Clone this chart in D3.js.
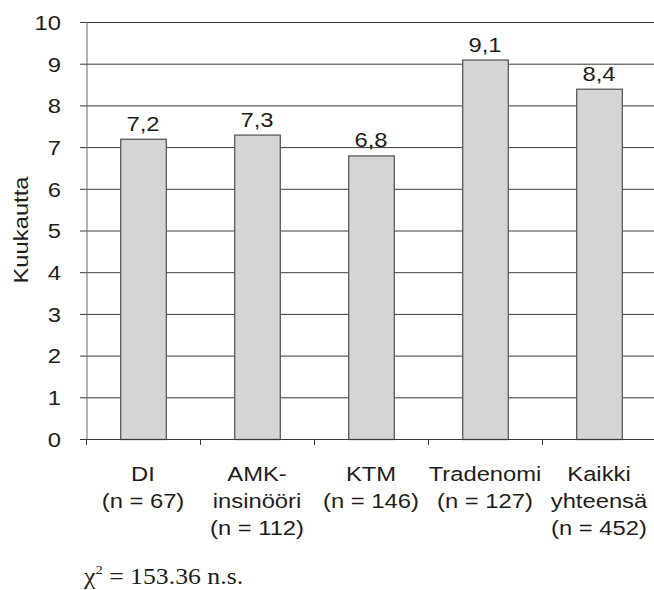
<!DOCTYPE html>
<html>
<head>
<meta charset="utf-8">
<script src="https://cdn.jsdelivr.net/npm/d3@7"></script>
<style>
  body { margin: 0; background: #fff; }
</style>
</head>
<body>
<div id="chart"></div>
<script>
// categories (each line of the label is a separate entry)
let categories = ["DI", "AMK", "KTM", "Tradenomi", "Kaikki"];
let labelLines = [
    ["DI", "(n = 67)"],
    ["AMK-", "insinööri", "(n = 112)"],
    ["KTM", "(n = 146)"],
    ["Tradenomi", "(n = 127)"],
    ["Kaikki", "yhteensä", "(n = 452)"]
];
let values = [7.2, 7.3, 6.8, 9.1, 8.4];
let yTicks = [0, 1, 2, 3, 4, 5, 6, 7, 8, 9, 10];

let margin = {top: 22, right: -2, bottom: 151, left: 86};
let width = 654 - margin.left - margin.right;
let height = 590 - margin.top - margin.bottom;

// the original type is a wide grotesque; Liberation Sans stretched horizontally
let sx = 1.16;
let fs = "20.5px";
let sans = "Liberation Sans, Arial, sans-serif";
let ink = "#1f1c1d";

let svg = d3.select("#chart").append("svg")
    .attr("width", 654)
    .attr("height", 590);

let g = svg.append("g")
    .attr("transform", "translate(" + margin.left + "," + margin.top + ")");

// scales
let x = d3.scaleBand().domain(categories).range([0, width]).paddingInner(0.6).paddingOuter(0.3);
let xCat = d3.scaleBand().domain(categories).range([0, width]);
let y = d3.scaleLinear().domain([0, 10]).range([height, 0]);

// gridlines
g.append("g")
    .selectAll("line")
    .data(yTicks.filter(d => d > 0))
    .enter().append("line")
    .attr("x1", 0)
    .attr("x2", width)
    .attr("y1", d => y(d) + 0.5)
    .attr("y2", d => y(d) + 0.5)
    .attr("stroke", "#3a3a3a")
    .attr("stroke-width", 1);

// y axis
let yAxis = g.append("g")
    .call(d3.axisLeft(y).tickValues(yTicks).tickSize(6).tickPadding(0));
yAxis.select(".domain").attr("stroke", "#6d6d6d").attr("transform", "translate(0.5,0)");
yAxis.selectAll(".tick line").attr("stroke", "#3a3a3a");
yAxis.selectAll("text")
    .attr("x", -25 / sx)
    .attr("dy", "0.36em")
    .attr("transform", "scale(" + sx + ",1)")
    .attr("font-family", sans)
    .attr("font-size", fs)
    .attr("fill", ink);

// bars
g.selectAll(".bar")
    .data(values)
    .enter().append("rect")
    .attr("class", "bar")
    .attr("x", (d, i) => x(categories[i]) + 0.5)
    .attr("y", d => y(d) + 0.5)
    .attr("width", x.bandwidth())
    .attr("height", d => height - y(d))
    .attr("fill", "#d4d5d7")
    .attr("stroke", "#5a5a5a")
    .attr("stroke-width", 1.3);

// value labels
g.selectAll(".val")
    .data(values)
    .enter().append("text")
    .attr("class", "val")
    .attr("transform", (d, i) => "translate(" + (x(categories[i]) + x.bandwidth() / 2) + "," + (y(d) - 8) + ") scale(" + sx + ",1)")
    .attr("text-anchor", "middle")
    .attr("font-family", sans)
    .attr("font-size", fs)
    .attr("fill", ink)
    .text(d => d3.format(".1f")(d).replace(".", ","));

// x axis
let xAxis = g.append("g")
    .attr("transform", "translate(0," + height + ")");
xAxis.append("line")
    .attr("x1", 0).attr("x2", width)
    .attr("y1", 0.5).attr("y2", 0.5)
    .attr("stroke", "#3a3a3a");
xAxis.selectAll(".xt")
    .data(categories)
    .enter().append("line")
    .attr("class", "xt")
    .attr("x1", d => xCat(d) + 0.5)
    .attr("x2", d => xCat(d) + 0.5)
    .attr("y1", 0)
    .attr("y2", 6)
    .attr("stroke", "#3a3a3a");

// category labels
let lab = xAxis.selectAll(".lab")
    .data(labelLines)
    .enter().append("text")
    .attr("class", "lab")
    .attr("text-anchor", "middle")
    .attr("font-family", sans)
    .attr("font-size", fs)
    .attr("fill", ink)
    .attr("transform", (d, i) => "translate(" + (xCat(categories[i]) + xCat.bandwidth() / 2) + ",42) scale(" + sx + ",1)");
lab.selectAll("tspan")
    .data(d => d)
    .enter().append("tspan")
    .attr("x", 0)
    .attr("dy", (d, i) => i === 0 ? 0 : 27)
    .text(d => d);

// y label
svg.append("text")
    .attr("transform", "translate(28,230) rotate(-90) scale(" + sx + ",1)")
    .attr("text-anchor", "middle")
    .attr("font-family", sans)
    .attr("font-size", fs)
    .attr("fill", ink)
    .text("Kuukautta");

// chi-square note
let note = svg.append("text")
    .attr("transform", "translate(84,584) scale(1.12,1)")
    .attr("font-family", "Liberation Serif, Times New Roman, serif")
    .attr("font-size", "23px")
    .attr("fill", ink);
note.append("tspan").text("χ");
note.append("tspan").attr("font-size", "13px").attr("dy", -10).text("2");
note.append("tspan").attr("dy", 10).text(" = 153.36 n.s.");
</script>
</body>
</html>
